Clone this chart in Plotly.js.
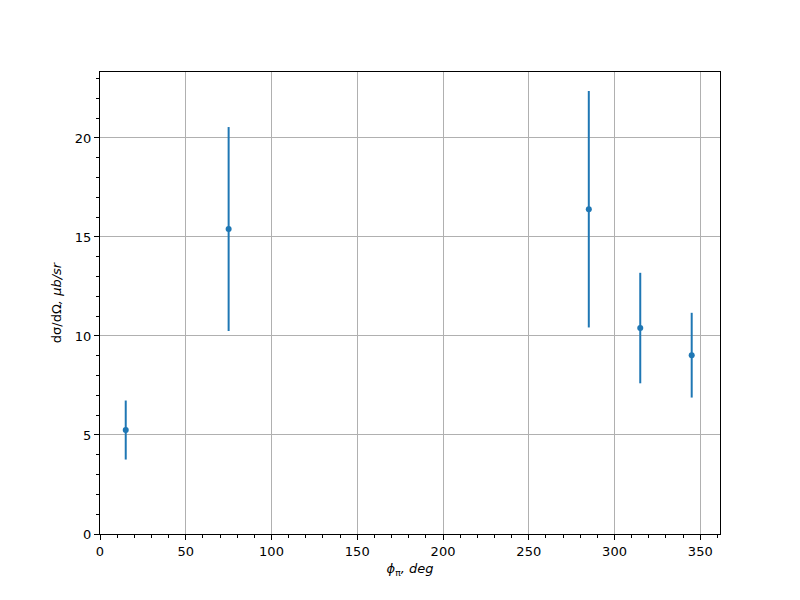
<!DOCTYPE html>
<html>
<head>
<meta charset="utf-8">
<script src="https://cdn.plot.ly/plotly-3.0.1.min.js"></script>
<style>html,body{margin:0;padding:0;background:#fff;}#chart{width:800px;height:600px;}</style>
</head>
<body>
<div id="chart"></div>
<script>
const phi = [15, 75, 285, 315, 345];
const xsec = [5.25, 15.4, 16.4, 10.4, 9.03];
const xsecErr = [1.49, 5.15, 5.97, 2.79, 2.14];

const trace = {
  x: phi,
  y: xsec,
  mode: 'markers',
  type: 'scatter',
  marker: {color: '#1f77b4', size: 6},
  error_y: {type: 'data', array: xsecErr, visible: true, color: '#1f77b4', thickness: 2, width: 0},
  showlegend: false,
  hoverinfo: 'x+y'
};

const axisCommon = {
  showline: true, mirror: true, linecolor: '#000', linewidth: 1,
  showgrid: true, gridcolor: '#b0b0b0', gridwidth: 1,
  zeroline: false,
  ticks: 'outside', ticklen: 5, tickwidth: 1, tickcolor: '#000',
  tickfont: {family: 'DejaVu Sans', size: 13, color: '#000'}
};

const layout = {
  width: 800, height: 600,
  paper_bgcolor: '#fff', plot_bgcolor: '#fff',
  margin: {l: 100, r: 80, t: 72, b: 66},
  font: {family: 'DejaVu Sans', size: 13, color: '#000'},
  xaxis: Object.assign({}, axisCommon, {
    range: [0, 361.5], tick0: 0, dtick: 50,
    minor: {dtick: 10, ticklen: 3, tickwidth: 1, tickcolor: '#000', ticks: 'outside', showgrid: false},
    title: {text: '<i>ϕ</i><sub>π</sub><i>, deg</i>', font: {family: 'DejaVu Sans', size: 13, color: '#000'}, standoff: 6}
  }),
  yaxis: Object.assign({}, axisCommon, {
    range: [0, 23.33], tick0: 0, dtick: 5,
    minor: {dtick: 1, ticklen: 3, tickwidth: 1, tickcolor: '#000', ticks: 'outside', showgrid: false},
    title: {text: 'dσ/dΩ<i>, μb/sr</i>', font: {family: 'DejaVu Sans', size: 13, color: '#000'}, standoff: 10}
  })
};

Plotly.newPlot('chart', [trace], layout, {displayModeBar: false, staticPlot: true});
</script>
</body>
</html>
